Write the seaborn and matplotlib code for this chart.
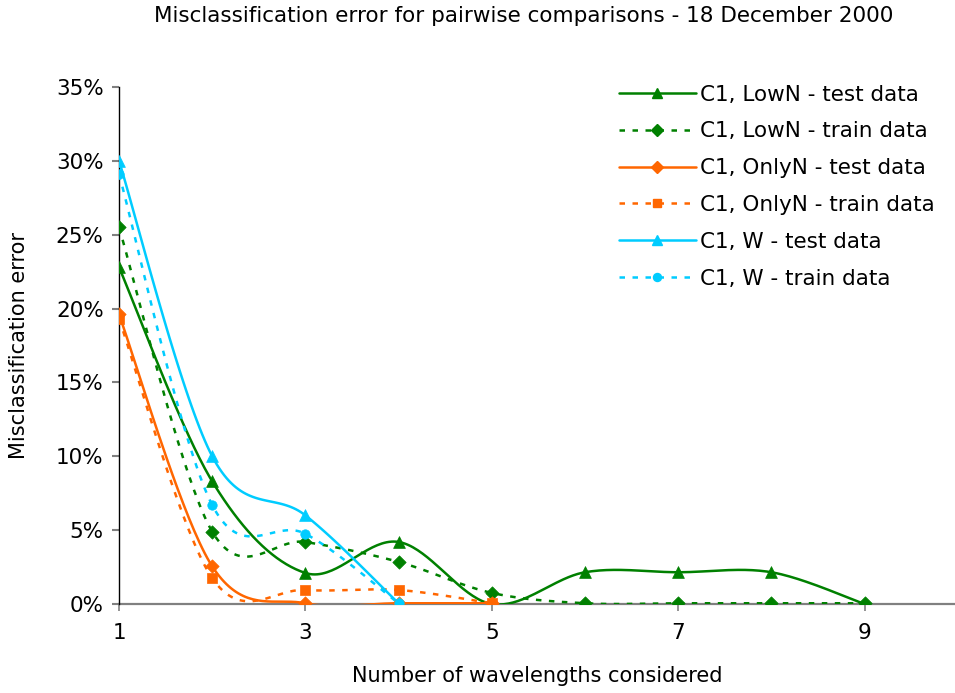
import numpy as np
import pandas as pd
import matplotlib
matplotlib.use("Agg")
import matplotlib.pyplot as plt
from matplotlib.lines import Line2D
import seaborn as sns

sns.set_theme(style="white")
plt.rcParams['font.family'] = ['DejaVu Sans']
plt.rcParams['text.color'] = 'black'
plt.rcParams['axes.labelcolor'] = 'black'
plt.rcParams['xtick.color'] = 'black'
plt.rcParams['ytick.color'] = 'black'

# ---- data (percent) ----
title = "Misclassification error for pairwise comparisons - 18 December 2000"
xlabel = "Number of wavelengths considered"
ylabel = "Misclassification error"
series_names = ["C1, LowN - test data", "C1, LowN - train data",
                "C1, OnlyN - test data", "C1, OnlyN - train data",
                "C1, W - test data", "C1, W - train data"]
x_lown = [1, 2, 3, 4, 5, 6, 7, 8, 9]
lown_test = [22.8, 8.3, 2.1, 4.2, 0.0, 2.15, 2.15, 2.15, 0.0]
lown_train = [25.5, 4.9, 4.2, 2.85, 0.75, 0.05, 0.05, 0.05, 0.05]
x_onlyn = [1, 2, 3, 4, 5]
onlyn_test = [19.6, 2.55, 0.05, 0.05, 0.05]
onlyn_train = [19.3, 1.75, 0.95, 0.95, 0.05]
x_w = [1, 2, 3, 4]
w_test = [30.0, 10.0, 6.0, 0.05]
w_train = [29.1, 6.7, 4.75, 0.05]
xticks = [1, 3, 5, 7, 9]
yticks = [0, 5, 10, 15, 20, 25, 30, 35]

colors = ["#008000", "#008000", "#FF6600", "#FF6600", "#00CCFF", "#00CCFF"]
markers = ["^", "D", "D", "s", "^", "o"]
msizes = [8.5, 6.8, 6.8, 6.8, 8.5, 6.8]
dotted = [False, True, False, True, False, True]
xs = [x_lown, x_lown, x_onlyn, x_onlyn, x_w, x_w]
ys = [lown_test, lown_train, onlyn_test, onlyn_train, w_test, w_train]


def smooth(x, y, n=40):
    """Catmull-Rom spline through the points (like Excel smoothed lines)."""
    x = np.asarray(x, float)
    y = np.asarray(y, float)
    P = np.column_stack([x, y])
    P = np.vstack([P[0], P, P[-1]])
    out = []
    t = np.linspace(0, 1, n)[:, None]
    for i in range(1, len(P) - 2):
        p0, p1, p2, p3 = P[i - 1], P[i], P[i + 1], P[i + 2]
        seg = 0.5 * ((2 * p1) + (-p0 + p2) * t + (2 * p0 - 5 * p1 + 4 * p2 - p3) * t ** 2
                     + (-p0 + 3 * p1 - 3 * p2 + p3) * t ** 3)
        out.append(seg if i == 1 else seg[1:])
    out = np.vstack(out)
    return out[:, 0], out[:, 1]


fig = plt.figure(figsize=(9.55, 6.93), dpi=100)
ax = fig.add_axes([119 / 955, 89 / 693, (955 - 119) / 955, (604 - 87) / 693])

lw = 1.8
dash = (2.2, 3.0)
handles = []
for name, c, m, ms, d, x, y in zip(series_names, colors, markers, msizes, dotted, xs, ys):
    sx, sy = smooth(x, y)
    df = pd.DataFrame({"x": sx, "y": sy})
    sns.lineplot(data=df, x="x", y="y", ax=ax, color=c, linewidth=lw, sort=False,
                 estimator=None, zorder=3)
    line = ax.lines[-1]
    if d:
        line.set_dashes(dash)
    pts = pd.DataFrame({"x": x, "y": y})
    sns.scatterplot(data=pts, x="x", y="y", ax=ax, color=c, marker=m, s=ms ** 2,
                    edgecolor=c, linewidth=0.5, zorder=4)
    h = Line2D([0], [0], color=c, lw=lw, marker=m, markersize=ms * 0.85,
               markeredgecolor=c, linestyle=(0, dash) if d else "-")
    handles.append(h)

ax.set_xlim(1, 9.97)
ax.set_ylim(0, 35)
ax.set_xticks(xticks)
ax.set_xticklabels([str(v) for v in xticks])
ax.set_yticks(yticks)
ax.set_yticklabels([f"{v}%" for v in yticks])
for s in ["top", "right"]:
    ax.spines[s].set_visible(False)
ax.spines["left"].set_color("black")
ax.spines["left"].set_linewidth(1.0)
ax.spines["bottom"].set_color("#808080")
ax.spines["bottom"].set_linewidth(1.6)
ax.spines["bottom"].set_zorder(2)
ax.tick_params(axis="y", direction="out", length=5, width=1.5, color="#808080",
               labelsize=15.5, pad=6, left=True, labelcolor="black")
ax.tick_params(axis="x", direction="out", length=5, width=1.2, color="#808080",
               labelsize=15.5, pad=9, bottom=True, labelcolor="black")
ax.set_xlabel(xlabel, fontsize=15, labelpad=16, color="black")
ax.set_ylabel(ylabel, fontsize=15, labelpad=19, color="black")
ax.grid(False)

fig.text(0.5 * (148 + 900) / 955, 1 - 16 / 693, title, ha="center", va="center",
         fontsize=15.5, color="black")

fig.legend(handles, series_names, loc="upper left", bbox_to_anchor=(610 / 955, 1 - 76 / 693),
           frameon=False, fontsize=15.5, handlelength=3.6, handletextpad=0.2,
           labelspacing=0.78, borderaxespad=0, labelcolor="black")

fig.savefig("out.png", dpi=100)
